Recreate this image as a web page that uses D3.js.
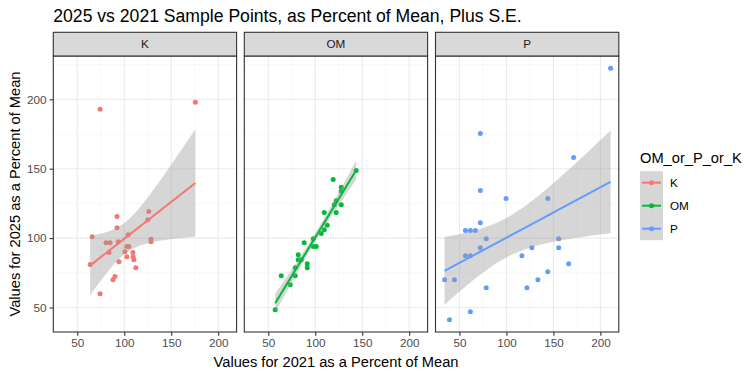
<!DOCTYPE html>
<html><head><meta charset="utf-8">
<script src="https://cdn.jsdelivr.net/npm/d3@7"></script>
<style>body{margin:0;background:#fff}svg{display:block}text{font-family:"Liberation Sans",Arial,sans-serif}</style>
</head><body><svg id="c" width="756" height="377"></svg>
<script>
const panels = ["K", "OM", "P"];
const colors = ["#F8766D", "#00BA38", "#619CFF"];
const kX = [74.3,175.7,126.1,92.3,92.3,125,65.8,104.2,80.6,84.9,93.7,128.5,128.5,102.8,104.9,83.8,100.7,109.2,102.8,109.5,110.2,94.4,63.7,112.3,90.1,88.0,74.3];
const kY = [192.8,197.8,119.1,115.5,107.5,113.3,101.0,102.5,96.7,96.7,97.4,99.1,97.4,94.0,94.0,89.7,90.2,89.7,86.6,86.6,84.4,83.0,81.0,78.6,72.4,70.0,59.9];
const omX = [143.6,119.1,127.7,127.7,122.3,120.2,127.7,109.6,122.3,112.8,109.6,106.4,97.9,88.3,97.9,101.1,81.9,81.9,85.1,91.5,91.5,78.7,63.8,78.7,73.4,57.4];
const omY = [148.7,142.2,136.7,133.8,127.0,124.1,124.1,118.4,118.4,109.2,106.1,103.4,99.6,96.7,94.0,94.0,88.0,84.4,84.4,81.5,78.6,78.6,72.9,72.9,66.4,48.3];
const pX = [210.9,72.2,171.5,72.2,99.6,144.0,72.2,56.3,61.6,66.9,78.5,155.6,72.2,127.1,155.6,56.3,61.6,116.5,166.2,144.0,34.2,44.7,133.5,78.5,121.8,61.6,39.4];
const pY = [222.4,175.4,158.1,134.3,128.5,128.5,111.1,105.4,105.4,105.4,99.6,99.6,93.1,93.1,93.1,87.3,87.3,87.3,81.5,75.8,70.0,70.0,70.0,64.2,64.2,46.9,41.1];
const xTicks = [50, 100, 150, 200];
const yTicks = [50, 100, 150, 200];
const xMinor = [25, 75, 125, 175];
const yMinor = [75, 125, 175, 225];
const titleText = "2025 vs 2021 Sample Points, as Percent of Mean, Plus S.E.";
const xTitle = "Values for 2021 as a Percent of Mean";
const yTitle = "Values for 2025 as a Percent of Mean";
const legendTitle = "OM_or_P_or_K";

const seriesX = [kX, omX, pX], seriesY = [kY, omY, pY];
const svg = d3.select("#c");
const panelLefts = [53.3, 244.3, 435.5];
const pw = 183.3, pTop = 56, pBottom = 332, stripTop = 32.3;

const y = d3.scaleLinear().domain([32.35, 231.2]).range([pBottom, pTop]);

function tq(nu){const z=1.959964;
  const g1=(z**3+z)/4, g2=(5*z**5+16*z**3+3*z)/96, g3=(3*z**7+19*z**5+17*z**3-15*z)/384;
  return z+g1/nu+g2/nu**2+g3/nu**3;}
function fit(xs, ys){
  const n=xs.length, mx=d3.mean(xs), my=d3.mean(ys);
  let sxx=0,sxy=0; for(let i=0;i<n;i++){sxx+=(xs[i]-mx)**2;sxy+=(xs[i]-mx)*(ys[i]-my);}
  const b=sxy/sxx, a=my-b*mx;
  let sse=0; for(let i=0;i<n;i++){sse+=(ys[i]-a-b*xs[i])**2;}
  const s=Math.sqrt(sse/(n-2)), t=tq(n-2);
  const lo=d3.min(xs), hi=d3.max(xs);
  return d3.range(80).map(k=>{const x=lo+(hi-lo)*k/79, yh=a+b*x, se=s*Math.sqrt(1/n+(x-mx)**2/sxx);
    return {x, y:yh, lo:yh-t*se, hi:yh+t*se};});
}

panels.forEach((name, pi) => {
  const L = panelLefts[pi];
  const x = d3.scaleLinear().domain([24.5, 219.6]).range([L, L + pw]);
  const g = svg.append("g");
  g.append("rect").attr("x", L).attr("y", pTop).attr("width", pw).attr("height", pBottom - pTop).attr("fill", "#fff");
  xMinor.forEach(v => { if (x(v) > L) g.append("line").attr("x1", x(v)).attr("x2", x(v)).attr("y1", pTop).attr("y2", pBottom).attr("stroke", "#F2F2F2").attr("stroke-width", 0.55); });
  yMinor.forEach(v => g.append("line").attr("x1", L).attr("x2", L + pw).attr("y1", y(v)).attr("y2", y(v)).attr("stroke", "#F2F2F2").attr("stroke-width", 0.55));
  xTicks.forEach(v => g.append("line").attr("x1", x(v)).attr("x2", x(v)).attr("y1", pTop).attr("y2", pBottom).attr("stroke", "#EBEBEB").attr("stroke-width", 1.1));
  yTicks.forEach(v => g.append("line").attr("x1", L).attr("x2", L + pw).attr("y1", y(v)).attr("y2", y(v)).attr("stroke", "#EBEBEB").attr("stroke-width", 1.1));
  const xs = seriesX[pi], ys = seriesY[pi];
  g.selectAll("circle").data(xs).join("circle").attr("cx", d => x(d)).attr("cy", (d, i) => y(ys[i])).attr("r", 2.5).attr("fill", colors[pi]);
  const f = fit(xs, ys);
  g.append("path").attr("d", d3.area().x(d => x(d.x)).y0(d => y(d.lo)).y1(d => y(d.hi))(f)).attr("fill", "#999999").attr("fill-opacity", 0.4);
  g.append("path").attr("d", d3.line().x(d => x(d.x)).y(d => y(d.y))(f)).attr("fill", "none").attr("stroke", colors[pi]).attr("stroke-width", 2);
  g.append("rect").attr("x", L).attr("y", pTop).attr("width", pw).attr("height", pBottom - pTop).attr("fill", "none").attr("stroke", "#333333").attr("stroke-width", 1.1);
  g.append("rect").attr("x", L).attr("y", stripTop).attr("width", pw).attr("height", pTop - stripTop).attr("fill", "#D9D9D9").attr("stroke", "#333333").attr("stroke-width", 1.1);
  g.append("text").attr("x", L + pw / 2).attr("y", (stripTop + pTop) / 2 + 4).attr("text-anchor", "middle").attr("font-size", 11.7).attr("fill", "#1A1A1A").text(name);
  const ax = g.append("g").attr("transform", `translate(0,${pBottom})`).call(d3.axisBottom(x).tickValues(xTicks).tickSize(3.7).tickPadding(3));
  ax.select(".domain").remove();
  ax.selectAll("line").attr("stroke", "#333333").attr("stroke-width", 1.1);
  ax.selectAll("text").attr("font-size", 11.7).attr("fill", "#4D4D4D").attr("font-family", "Liberation Sans, Arial, sans-serif");
});
const ay = svg.append("g").attr("transform", `translate(${panelLefts[0]},0)`).call(d3.axisLeft(y).tickValues(yTicks).tickSize(3.7).tickPadding(3));
ay.select(".domain").remove();
ay.selectAll("line").attr("stroke", "#333333").attr("stroke-width", 1.1);
ay.selectAll("text").attr("font-size", 11.7).attr("fill", "#4D4D4D").attr("font-family", "Liberation Sans, Arial, sans-serif");

svg.append("text").attr("x", 53.3).attr("y", 22).attr("font-size", 17.6).attr("fill", "#000").text(titleText);
svg.append("text").attr("x", (panelLefts[0] + panelLefts[2] + pw) / 2).attr("y", 367).attr("text-anchor", "middle").attr("font-size", 14.67).attr("fill", "#000").text(xTitle);
svg.append("text").attr("transform", `translate(19.5,${(pTop + pBottom) / 2}) rotate(-90)`).attr("text-anchor", "middle").attr("font-size", 14.67).attr("fill", "#000").text(yTitle);

const lg = svg.append("g");
lg.append("text").attr("x", 640).attr("y", 163).attr("font-size", 14.67).attr("fill", "#000").text(legendTitle);
panels.forEach((name, i) => {
  const cy = 182.7 + i * 23;
  lg.append("rect").attr("x", 640).attr("y", cy - 11.5).attr("width", 23).attr("height", 23).attr("fill", "#999999").attr("fill-opacity", 0.4);
  lg.append("line").attr("x1", 642).attr("x2", 661).attr("y1", cy).attr("y2", cy).attr("stroke", colors[i]).attr("stroke-width", 2);
  lg.append("circle").attr("cx", 651.5).attr("cy", cy).attr("r", 2.5).attr("fill", colors[i]);
  lg.append("text").attr("x", 670).attr("y", cy + 4.2).attr("font-size", 11.7).attr("fill", "#000").text(name);
});
</script></body></html>
